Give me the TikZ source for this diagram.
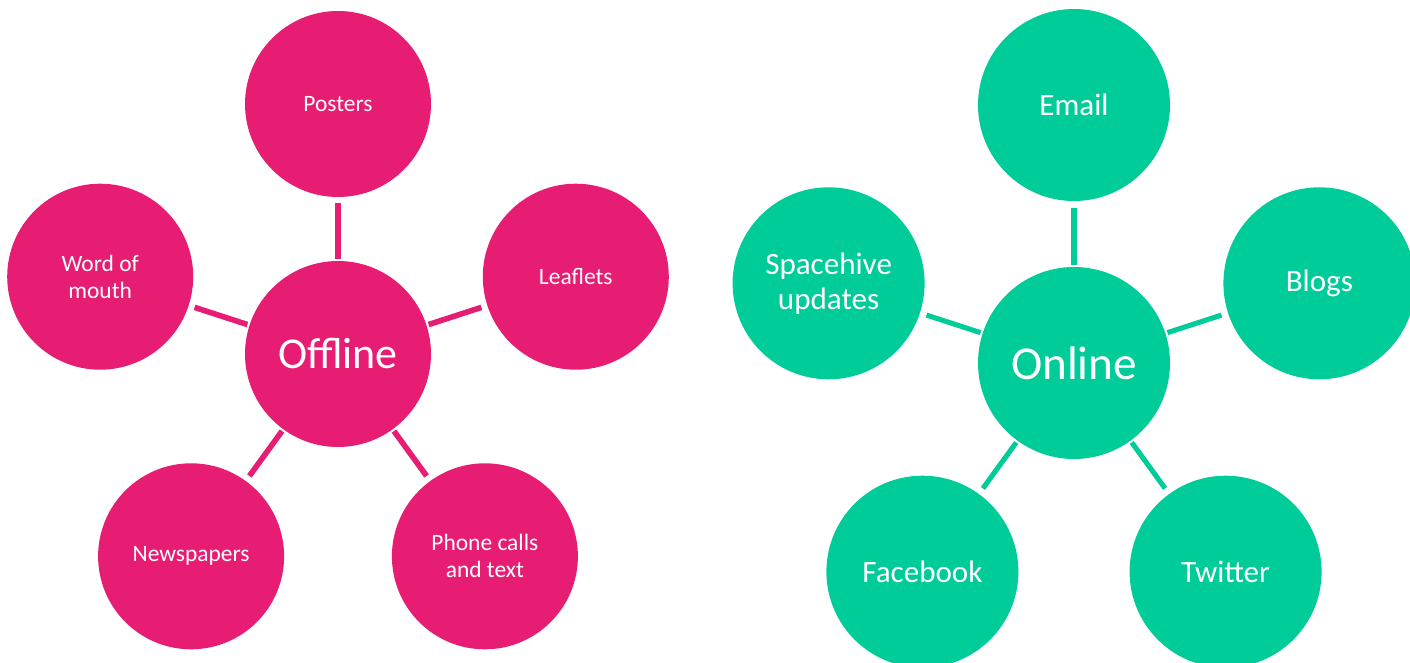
\documentclass[tikz,border=0pt]{standalone}
\usepackage{fontspec}
\setmainfont{Carlito}
\definecolor{offpink}{HTML}{E71D73}
\definecolor{ongreen}{HTML}{00CC99}
\begin{document}
\begin{tikzpicture}[x=0.75pt,y=-0.75pt,
  pinkball/.style={circle,fill=offpink,draw=none,inner sep=0pt,minimum size=139.5pt,text=white,align=center},
  greenball/.style={circle,fill=ongreen,draw=none,inner sep=0pt,minimum size=144pt,text=white,align=center},
  pinksmall/.style={pinkball,font=\fontsize{17.6}{20.3}\selectfont},
  pinkbig/.style={pinkball,font=\fontsize{33}{38}\selectfont},
  greensmall/.style={greenball,font=\fontsize{23.3}{26.3}\selectfont},
  greenbig/.style={greenball,font=\fontsize{35.4}{40}\selectfont},
  pinklink/.style={draw=offpink,line width=4.2pt,shorten <=1.5pt,shorten >=4.5pt},
  greenlink/.style={draw=ongreen,line width=3.8pt,shorten <=1.5pt,shorten >=5pt}]
\useasboundingbox (0,0) rectangle (1410,663);
\clip (0,0) rectangle (1410,663);
\fill[white] (0,0) rectangle (1410,663);
% Offline
\node[pinkbig] (off) at (338,354) {Offline};
\node[pinksmall] (posters) at (338,104) {Posters};
\node[pinksmall] (leaflets) at (575.8,276.7) {Leaflets};
\node[pinksmall] (word) at (100.2,276.7) {Word of\\mouth};
\node[pinksmall] (news) at (191.1,556.3) {Newspapers};
\node[pinksmall] (phone) at (484.9,556.3) {Phone calls\\and text};
\draw[pinklink] (off) -- (posters);
\draw[pinklink] (off) -- (leaflets);
\draw[pinklink] (off) -- (word);
\draw[pinklink] (off) -- (news);
\draw[pinklink] (off) -- (phone);
% Online
\node[greenbig] (on) at (1074,363) {Online};
\node[greensmall] (email) at (1074,105) {Email};
\node[greensmall] (blogs) at (1319.4,283.3) {Blogs};
\node[greensmall] (space) at (828.6,283.3) {Spacehive\\updates};
\node[greensmall] (face) at (922.4,571.7) {Facebook};
\node[greensmall] (twit) at (1225.6,571.7) {Twitter};
\draw[greenlink] (on) -- (email);
\draw[greenlink] (on) -- (blogs);
\draw[greenlink] (on) -- (space);
\draw[greenlink] (on) -- (face);
\draw[greenlink] (on) -- (twit);
\end{tikzpicture}
\end{document}
